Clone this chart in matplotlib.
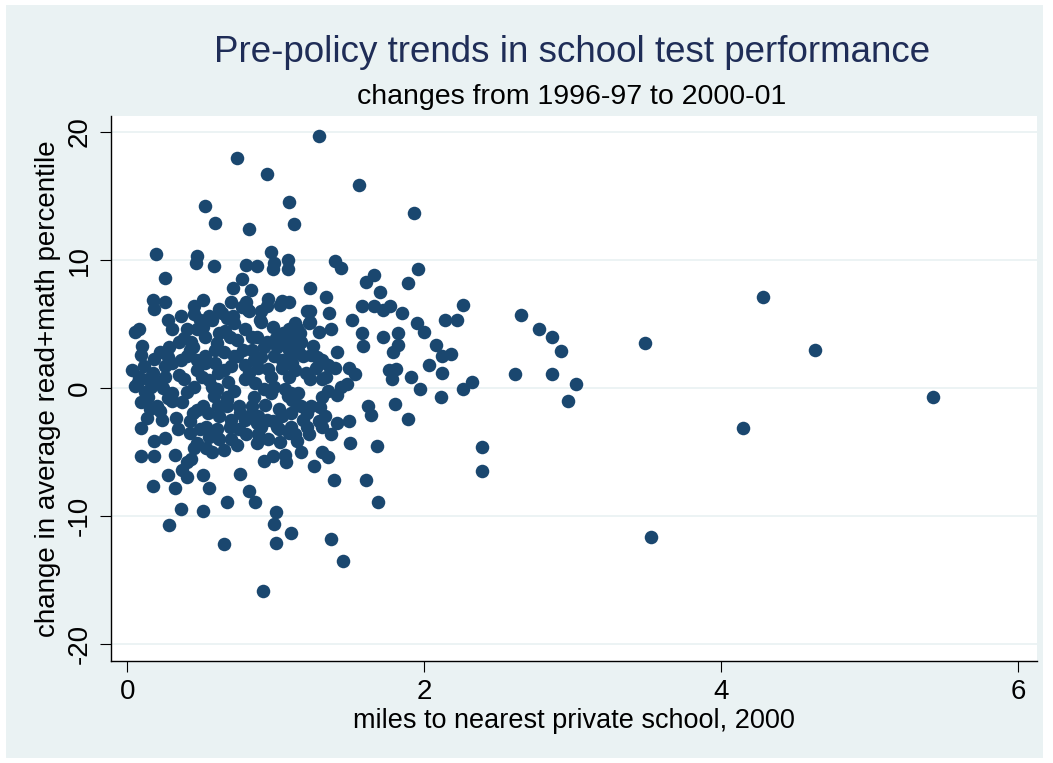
import matplotlib
matplotlib.use("Agg")
import matplotlib.pyplot as plt
from matplotlib.patches import Rectangle

# miles to nearest private school (2000) and change in average read+math percentile
miles = [
    1.29, 0.74, 0.94, 1.56, 0.52, 1.09, 1.93, 0.59, 0.82, 1.12, 0.19, 0.47, 0.46, 0.97, 0.99, 1.08, 1.08,
    0.58, 0.80, 0.87, 0.98, 1.40, 1.44, 1.96, 0.25, 0.77, 1.61, 1.66, 1.89, 1.70, 0.71, 0.83, 1.23, 1.34,
    0.17, 0.25, 0.18, 0.45, 0.51, 0.70, 0.80, 0.81, 0.94, 1.04, 1.23, 1.36, 1.58, 1.66, 1.72, 1.77, 1.85,
    2.26, 0.77, 0.82, 1.09, 1.21, 0.36, 0.55, 0.64,
    0.27, 0.30, 0.08, 0.05, 0.49, 0.71, 0.89, 0.98, 1.10, 1.14, 0.67, 0.90, 1.23, 1.51, 1.95, 2.00, 2.14,
    2.22, 1.22, 1.29, 1.37, 1.13, 1.09, 1.16, 0.72, 0.79, 0.84, 0.74, 0.69, 1.58, 1.59, 1.72, 1.82, 1.82,
    1.79, 2.08, 2.12, 2.18, 0.38, 0.43, 0.57, 0.35, 0.44, 0.51, 0.47, 0.87, 0.94, 0.84, 1.04, 1.14, 1.09,
    0.92, 1.01, 1.17, 0.09, 0.22, 0.28, 0.27, 0.36, 0.42, 0.47, 0.52, 0.59, 0.65, 0.74, 0.90, 0.99, 1.04,
    1.10, 1.11, 1.18, 1.24, 1.28, 1.41, 1.09, 1.14, 0.62,
    0.03, 0.11, 0.17, 0.25, 0.07, 0.14, 0.20, 0.16, 0.24, 0.30, 0.38, 0.45, 0.50, 0.57, 0.61, 0.47, 0.52,
    0.59, 0.65, 0.70, 0.79, 0.88, 0.97, 1.04, 1.13, 1.23, 1.27, 1.34, 1.35, 1.31, 0.79, 0.86, 0.92, 0.99,
    1.06, 1.10, 0.82, 1.09, 1.49, 1.53, 1.76, 1.81, 2.12, 1.91, 2.03, 2.26, 1.48, 1.44, 1.41, 1.97, 1.78,
    1.31, 0.60, 0.08,
    0.09, 0.13, 0.20, 0.37, 0.44, 0.51, 0.67, 0.75, 0.82, 0.47, 0.54, 0.61, 0.67, 0.14, 0.23, 0.09, 0.67,
    0.84, 0.88, 0.94, 1.04, 1.10, 1.17, 1.21, 0.70, 0.79, 0.90, 1.01, 1.10, 1.21, 1.31, 1.31, 1.24, 1.33,
    1.41, 1.11, 1.15, 1.29, 1.13, 1.37, 1.62, 1.64, 1.80, 1.89, 1.49, 2.11, 0.42, 0.49, 0.53, 0.60, 0.69,
    0.75, 0.80, 0.87, 0.98, 1.02, 1.09, 0.34, 0.18, 0.25, 0.70,
    0.09, 0.18, 0.32, 0.40, 0.43, 0.37, 0.27, 0.17, 0.32, 0.36, 0.28, 0.40, 0.51, 0.55, 0.51, 0.67, 0.65,
    0.76, 0.82, 0.86, 0.91, 1.00, 0.99, 1.00, 1.10, 0.87, 1.17, 0.92, 0.98, 1.06, 1.07, 1.26, 1.31, 1.35,
    1.39, 1.37, 1.45, 1.50, 1.68, 1.61, 1.69, 2.39, 2.39, 0.47, 0.57, 0.65, 0.74, 0.53,
    2.65, 2.77, 2.86, 2.92, 2.61, 2.86, 2.32, 3.02, 2.97, 3.49, 3.53, 4.28, 4.15, 4.63, 5.43,
    0.30, 0.33, 0.27, 0.22, 0.40, 0.42, 0.58, 0.62, 0.72, 0.76, 0.85, 0.93, 0.97, 1.02, 1.08, 1.15, 1.18,
    0.88, 0.95, 1.03, 1.14, 1.22, 0.62, 0.55, 0.45, 0.30, 0.35, 0.40, 0.55, 0.68, 0.72, 0.78, 0.85, 0.95,
    1.00, 1.05, 1.15, 1.20, 1.25, 0.60, 0.66, 0.52, 0.40, 0.45, 0.62, 0.90, 0.95, 1.03, 0.12, 0.05, 0.18,
    0.25, 0.10, 0.15, 1.30, 1.35, 1.40,
]
change = [
    19.7, 18.0, 16.7, 15.9, 14.2, 14.5, 13.7, 12.9, 12.4, 12.8, 10.5, 10.3, 9.8, 10.6, 9.8, 10.0, 9.3,
    9.5, 9.6, 9.5, 9.3, 9.9, 9.4, 9.3, 8.6, 8.5, 8.3, 8.8, 8.2, 7.5, 7.8, 7.7, 7.8, 7.1,
    6.9, 6.7, 6.2, 6.4, 6.9, 6.7, 6.7, 6.1, 6.4, 6.8, 6.0, 5.9, 6.4, 6.4, 6.1, 6.4, 5.9,
    6.5, 6.3, 6.0, 6.7, 6.0, 5.6, 5.6, 5.9,
    5.3, 4.6, 4.6, 4.4, 5.3, 5.6, 5.3, 4.8, 4.6, 4.7, 5.5, 5.2, 5.2, 5.3, 5.1, 4.4, 5.3,
    5.3, 5.1, 4.4, 4.6, 5.1, 4.6, 4.3, 5.1, 4.6, 4.0, 3.8, 4.0, 4.3, 3.3, 4.0, 4.3, 3.4,
    2.8, 3.4, 2.5, 2.7, 3.9, 3.6, 5.3, 3.6, 3.2, 4.8, 4.6, 4.0, 3.6, 3.0, 3.6, 4.0, 3.0,
    3.2, 3.2, 3.6, 2.6, 2.8, 3.2, 2.4, 2.2, 3.0, 2.2, 2.5, 3.0, 2.8, 2.5, 2.4, 2.5, 2.2,
    2.4, 2.0, 2.5, 2.6, 2.4, 2.8, 3.6, 3.8, 4.3,
    1.4, 1.7, 1.2, 0.9, 0.5, 0.7, 0.4, 0.1, 0.0, -0.4, 0.7, 0.1, 0.9, 0.1, 1.2, 1.4, 2.0,
    2.0, 1.4, 1.7, 1.8, 1.6, 0.9, 1.6, 1.4, 0.7, 1.6, 0.9, 1.8, 2.2, 0.7, 0.4, -0.1, 0.1,
    -0.1, -0.4, 1.2, 0.9, 1.6, 1.1, 1.4, 1.5, 1.2, 0.9, 1.8, -0.1, 0.3, 0.1, -0.5, -0.1, 0.7,
    0.7, -0.1, 0.9,
    -1.1, -2.3, -1.4, -1.1, -1.9, -1.4, -0.7, -1.4, -2.2, -1.7, -1.9, -1.4, -1.4, -0.7, -2.5, -3.1, -0.9,
    -1.4, -2.2, -2.5, -2.2, -1.9, -1.4, -1.9, -2.5, -2.5, -3.0, -3.0, -3.0, -3.0, -3.0, -0.7, -1.4, -2.2,
    -2.7, -0.9, -1.3, -2.6, -3.6, -3.6, -1.4, -2.1, -1.2, -2.4, -2.6, -0.7, -3.5, -3.2, -3.0, -3.2, -3.0,
    -3.2, -3.6, -2.7, -2.6, -3.2, -3.5, -3.2, -4.1, -3.9, -4.0,
    -5.3, -5.3, -5.2, -5.8, -5.5, -6.4, -6.8, -7.6, -7.8, -9.4, -10.7, -6.9, -6.8, -7.8, -9.6, -8.9, -12.2,
    -6.7, -8.0, -8.9, -15.8, -9.7, -10.6, -12.1, -11.3, -4.3, -5.0, -5.7, -5.3, -5.2, -5.8, -6.1, -5.0, -5.4,
    -7.2, -11.8, -13.5, -4.3, -4.5, -7.2, -8.9, -4.6, -6.5, -4.3, -5.0, -4.8, -4.4, -4.7,
    5.7, 4.6, 4.0, 2.9, 1.1, 1.1, 0.5, 0.3, -1.0, 3.5, -11.6, 7.1, -3.1, 3.0, -0.7,
    -1.0, -2.3, -0.8, -1.8, -0.3, -2.6, -0.6, -2.2, -0.2, -1.9, -0.7, -1.3, -0.4, -1.6, -0.6, -0.4, -2.5,
    -3.6, -4.0, -4.2, -4.1, -3.6, -4.0, -3.8, -4.7, 2.0, 1.0, 2.5, 0.6, 0.5, 2.5, 3.0, 2.2, 1.5,
    3.9, 4.3, 3.0, 1.2, 3.3, 3.5, 4.5, 4.0, 4.6, 5.8, 6.2, 6.0, 7.0, 6.5, -0.3, 0.2, 2.3,
    1.7, 3.3, -1.6, -1.5, -0.2, 1.6,
]

xticks = [0, 2, 4, 6]
yticks = [-20, -10, 0, 10, 20]

navy = "#1A476F"
panel = "#EAF2F3"

plt.rcParams["font.family"] = ["Liberation Sans", "DejaVu Sans"]

fig = plt.figure(figsize=(10.53, 7.63), dpi=100, facecolor="white")
fig.patches.append(Rectangle((6 / 1053, 5 / 763), 1037 / 1053, 753 / 763,
                             transform=fig.transFigure, facecolor=panel,
                             edgecolor="none", zorder=-10))

ax = fig.add_axes([111 / 1053, 1 - 661 / 763, 926 / 1053, 545 / 763])
ax.set_facecolor("white")
ax.scatter(miles, change, s=95, color=navy, linewidths=0, zorder=3)

ax.set_xlim(-0.111, 6.129)
ax.set_ylim(-21.3, 21.25)
ax.set_xticks(xticks)
ax.set_yticks(yticks)
ax.set_xticklabels([str(t) for t in xticks])
ax.set_yticklabels([str(t) for t in yticks], rotation=90, va="center")
ax.yaxis.grid(True, color=panel, linewidth=1.3, zorder=0)
ax.set_axisbelow(True)

for side in ("top", "right"):
    ax.spines[side].set_visible(False)
for side in ("left", "bottom"):
    ax.spines[side].set_color("black")
    ax.spines[side].set_linewidth(1.0)

ax.tick_params(axis="both", direction="out", length=8, width=0.8,
               color="black", labelsize=20, pad=5)

ax.set_xlabel("miles to nearest private school, 2000", fontsize=19.5, labelpad=2)
ax.set_ylabel("change in average read+math percentile", fontsize=20, labelpad=4)

fig.text(0.543, 1 - 52 / 763, "Pre-policy trends in school test performance",
         ha="center", va="center", fontsize=26.5, color="#1F2D57")
fig.text(0.543, 1 - 97 / 763, "changes from 1996-97 to 2000-01",
         ha="center", va="center", fontsize=20.5, color="black")

fig.savefig("out.png", dpi=100, facecolor=fig.get_facecolor())
